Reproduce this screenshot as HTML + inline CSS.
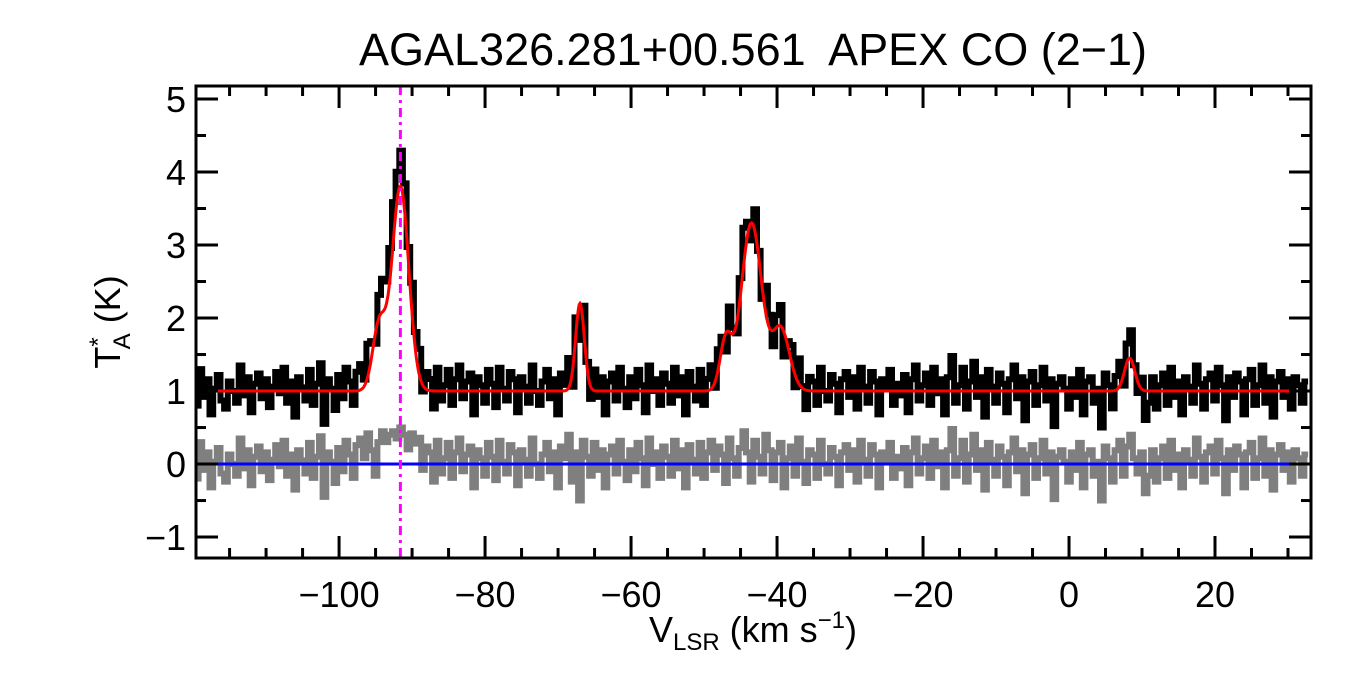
<!DOCTYPE html>
<html><head><meta charset="utf-8"><style>
html,body{margin:0;padding:0;background:#fff;}
svg{display:block;font-family:"Liberation Sans",sans-serif;}
</style></head><body>
<svg id="chart" width="1350" height="675" viewBox="0 0 1350 675">
<text x="753" y="65" font-size="45" text-anchor="middle" xml:space="preserve">AGAL326.281+00.561  APEX CO (2−1)</text>
<g id="plot"></g>
<rect x="196" y="86" width="1115" height="472" fill="none" stroke="#000" stroke-width="3"/>
<g id="ticks"></g>
<text transform="translate(120,322) rotate(-90)" font-size="36" text-anchor="middle">T<tspan font-size="24" dy="-14">*</tspan><tspan font-size="24" dy="24" dx="-12">A</tspan><tspan dy="-10"> (K)</tspan></text>
<text x="753" y="642" font-size="36" text-anchor="middle">V<tspan font-size="24" dy="8">LSR</tspan><tspan dy="-8"> (km s</tspan><tspan font-size="24" dy="-14">−1</tspan><tspan dy="14">)</tspan></text>
</svg>
<script>
const xTicks=[-100,-80,-60,-40,-20,0,20];
const yTicks=[-1,0,1,2,3,4,5];
const chanStart=-120, chanWidth=0.5;
const baseline=1.0;
const gaussCenters=[-91.6,-94.5,-67,-43.5,-47,-39.5,8.3];
const gaussAmps=[2.8,0.9,1.2,2.3,0.7,0.85,0.45];
const gaussSigmas=[1.15,0.9,0.6,1.4,0.8,1.2,0.7];
const markerVelocity=-91.6;
const residuals=[
0.08,-0.2,0.3,-0.08,0.16,-0.32,0.03,0.22,-0.13,-0.24,0.13,0.0,-0.16,0.35,-0.06,0.19,-0.29,0.1,0.24,-0.1,
0.16,-0.22,0.06,0.26,-0.03,0.32,-0.16,0.13,-0.35,0.19,0.05,-0.13,0.29,-0.19,0.1,0.38,-0.45,0.16,0.03,-0.26,
0.22,-0.1,0.32,0.13,-0.19,0.26,0.35,0.08,0.42,0.19,-0.16,0.3,0.45,0.3,0.4,0.45,0.35,0.5,0.4,0.2,
0.42,0.28,0.36,-0.08,0.24,0.16,-0.24,0.32,-0.13,0.08,0.29,-0.19,0.16,0.35,-0.1,0.13,0.24,-0.32,0.19,0.08,
-0.16,0.29,0.1,-0.22,0.32,0.03,-0.13,0.26,0.16,-0.29,0.19,0.06,-0.16,0.35,0.0,-0.19,0.13,0.29,-0.1,0.16,
-0.32,0.24,0.08,0.4,-0.24,0.16,-0.5,0.32,0.1,-0.16,0.29,-0.08,0.19,-0.32,0.13,0.24,-0.13,0.32,0.03,-0.22,
0.19,-0.1,0.29,0.08,-0.29,0.35,0.0,0.16,-0.19,0.24,0.1,-0.16,0.32,-0.06,0.19,-0.32,0.26,0.06,-0.13,0.29,
-0.19,0.16,0.32,-0.08,0.24,0.13,-0.26,0.35,0.08,-0.16,0.22,0.45,0.16,-0.24,0.32,0.1,-0.13,0.4,0.19,-0.22,
0.16,0.29,-0.32,0.08,0.24,-0.16,0.35,0.03,-0.26,0.19,0.13,-0.19,0.32,0.0,-0.13,0.22,0.1,-0.29,0.16,0.26,
-0.08,0.19,-0.24,0.32,0.06,-0.16,0.26,0.13,-0.32,0.16,0.03,0.29,-0.19,0.1,-0.06,0.22,-0.29,0.16,0.35,-0.13,
0.08,0.24,-0.19,0.32,-0.03,0.16,-0.32,0.19,0.48,-0.16,0.08,0.32,-0.24,0.13,0.4,-0.08,0.19,-0.35,0.29,0.06,
-0.16,0.24,0.1,-0.29,0.16,0.35,-0.1,0.19,-0.4,0.13,0.26,-0.19,0.08,0.32,-0.13,0.16,-0.48,0.1,0.19,0.03,
-0.24,0.16,-0.08,0.29,-0.32,0.13,0.19,-0.16,0.03,-0.5,0.24,0.08,-0.24,0.19,0.32,-0.16,0.24,0.4,0.08,-0.13,
0.16,-0.4,-0.16,0.19,-0.24,0.08,0.24,-0.19,0.32,-0.08,0.13,-0.32,0.19,0.06,-0.16,0.35,0.1,-0.24,0.16,0.24,
-0.13,0.32,0.08,-0.4,0.19,-0.08,0.24,0.13,-0.32,0.16,0.29,-0.19,0.08,0.35,-0.16,0.19,-0.35,0.13,0.26,-0.08,
0.16,-0.24,0.19,0.08,-0.16,0.13];

const X0=196,X1=1311,Y0=86,Y1=558;
const xmin=-119.6,xmax=33.15,ymin=-1.287,ymax=5.178;
function sx(v){return X0+(v-xmin)/(xmax-xmin)*(X1-X0);}
function sy(t){return Y1-(t-ymin)/(ymax-ymin)*(Y1-Y0);}
function model(v){let s=baseline;for(let k=0;k<gaussCenters.length;k++){s+=gaussAmps[k]*Math.exp(-0.5*Math.pow((v-gaussCenters[k])/gaussSigmas[k],2));}return s;}
const NS='http://www.w3.org/2000/svg';
const plot=document.getElementById('plot');
function mk(tag,attrs,parent){const e=document.createElementNS(NS,tag);for(const k in attrs)e.setAttribute(k,attrs[k]);parent.appendChild(e);return e;}
function stepPath(vals){let d='';vals.forEach((t,i)=>{const v0=Math.max(chanStart+i*chanWidth-chanWidth/2,xmin),v1=Math.min(chanStart+i*chanWidth+chanWidth/2,xmax);if(v1<=v0)return;d+=(d?'L':'M')+sx(v0).toFixed(1)+','+sy(t).toFixed(1)+'L'+sx(v1).toFixed(1)+','+sy(t).toFixed(1);});return d;}
const clip=mk('clipPath',{id:'pc'},plot);mk('rect',{x:X0,y:Y0,width:X1-X0,height:Y1-Y0},clip);
const g=mk('g',{'clip-path':'url(#pc)'},plot);
const resid=mk('path',{d:stepPath(residuals),fill:'none',stroke:'#7f7f7f','stroke-width':6},g);


const zl=mk('line',{x1:X0,x2:X1,y1:sy(0),y2:sy(0),stroke:'#0000ff','stroke-width':3},g);


const obs=residuals.map((r,i)=>model(chanStart+i*chanWidth)+r);
const sp=mk('path',{d:stepPath(obs),fill:'none',stroke:'#000','stroke-width':6},g);


let fd='';for(let v=xmin;v<=xmax;v+=0.1){fd+=(fd?'L':'M')+sx(v).toFixed(1)+','+sy(model(v)).toFixed(1);}
const fit=mk('path',{d:fd,fill:'none',stroke:'#ff0000','stroke-width':3},g);


const mline=mk('line',{x1:sx(markerVelocity),x2:sx(markerVelocity),y1:Y0,y2:Y1,stroke:'#ff00ff','stroke-width':3,'stroke-dasharray':'9,5,3,5'},g);


const tk=document.getElementById('ticks');
for(let v=-115;v<=30;v+=5){const x=sx(v);const major=xTicks.includes(v);const L=major?22:10;
const a=mk('line',{x1:x,x2:x,y1:Y1,y2:Y1-L,stroke:'#000','stroke-width':3},tk);
const b=mk('line',{x1:x,x2:x,y1:Y0,y2:Y0+L,stroke:'#000','stroke-width':3},tk);}
xTicks.forEach(v=>{const t=mk('text',{x:sx(v),y:607,'font-size':36,'text-anchor':'middle'},tk);t.textContent=(v<0?'−':'')+Math.abs(v);});
for(let k=-2;k<=10;k++){const t=k/2;const y=sy(t);if(y<Y0||y>Y1)continue;const major=Number.isInteger(t);const L=major?22:10;
const a=mk('line',{x1:X0,x2:X0+L,y1:y,y2:y,stroke:'#000','stroke-width':3},tk);
const b=mk('line',{x1:X1,x2:X1-L,y1:y,y2:y,stroke:'#000','stroke-width':3},tk);}
yTicks.forEach(t=>{const e=mk('text',{x:186,y:sy(t)+13,'font-size':36,'text-anchor':'end'},tk);e.textContent=(t<0?'−':'')+Math.abs(t);});
</script>
</body></html>
